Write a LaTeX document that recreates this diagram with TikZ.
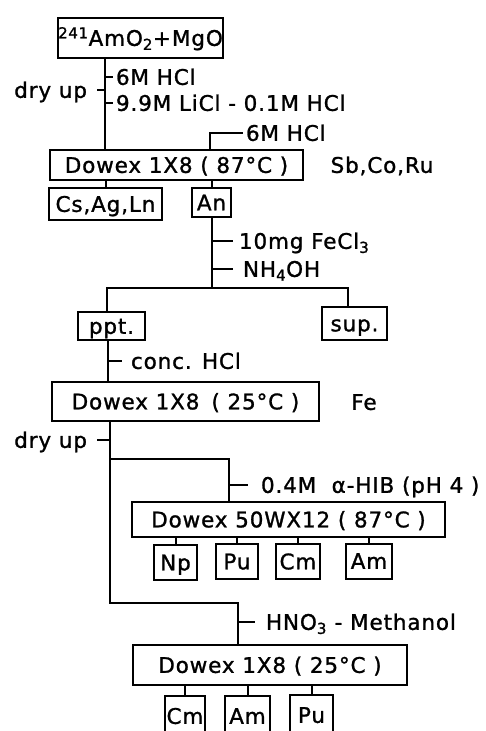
\documentclass[tikz,border=0pt]{standalone}
\usepackage{fontspec}
\setmainfont{DejaVu Sans}[LetterSpace=4,FakeBold=1.2]
\begin{document}
\begin{tikzpicture}[x=1pt,y=-1pt,line width=2pt,
  txt/.style={inner sep=0pt,text height=15.7pt,text depth=0pt,font=\fontsize{21.5}{25}\selectfont},
  box/.style={txt,draw},
  lbl/.style={txt}]
\clip (0,0) rectangle (485,731);
% top
\node[box,minimum width=161,minimum height=40] (b1) at (140.5,38) {\textsuperscript{241}AmO\textsubscript{2}+\hspace{1pt}MgO};
\node[box,minimum width=253,minimum height=30] (b2) at (176.5,165) {Dowex 1X8 ( 87°C )};
\node[lbl] (sb) at (382,165) {Sb,Co,Ru};
\coordinate (t1) at (105,77);
\coordinate (t2) at (105,90);
\coordinate (t3) at (105,103);
\draw (b1.south -| t1) -- (b2.north -| t1);
\node[lbl,anchor=west] (l1) at (115,77) {6M HCl};
\node[lbl,anchor=east] (l2) at (88,90) {dry up};
\node[lbl,anchor=west] (l3) at (115,103) {9.9M LiCl - 0.1M HCl};
\draw (t1) -- ([xshift=-2]l1.west);
\draw (t2) -- ([xshift=9]l2.east);
\draw (t3) -- ([xshift=-2]l3.west);
\coordinate (c2) at (210,133);
\node[lbl,anchor=west] (l4) at (245,133) {6M HCl};
\draw (b2.north -| c2) |- ([xshift=-2]l4.west);
% second level
\node[box,minimum width=113,minimum height=32] (cs) at (105.5,204) {Cs,Ag,Ln};
\node[box,minimum width=39,minimum height=29] (an) at (211.5,202.5) {An};
\draw (cs.north) -- (cs.north |- b2.south);
\draw (an.north) -- (an.north |- b2.south);
\node[box,minimum width=67,minimum height=28] (ppt) at (111.5,326) {ppt.};
\node[box,minimum width=65,minimum height=33] (sup) at (354.5,323.5) {sup.};
\coordinate (jL) at (107,288);
\coordinate (jR) at (348,288);
\draw (an.south) -- (an.south |- jL);
\draw (ppt.north -| jL) -- (jL) -- (jR) -- (sup.north -| jR);
\node[lbl,anchor=west] (l5) at (238,241) {10mg FeCl\textsubscript{3}};
\node[lbl,anchor=west] (l6) at (242,269) {NH\textsubscript{4}OH};
\draw (an.south |- l5.west) -- ([xshift=-5]l5.west);
\draw (an.south |- l6.west) -- ([xshift=-9]l6.west);
% Dowex 25
\node[box,minimum width=267,minimum height=39] (d3) at (185.5,401.5) {Dowex 1X8\hspace{12pt}( 25°C )};
\node[lbl] (fe) at (364,402) {Fe};
\coordinate (v2) at (108,361);
\draw (ppt.south -| v2) -- (d3.north -| v2);
\node[lbl,anchor=west] (l7) at (130,361) {conc. HCl};
\draw (v2) -- ([xshift=-8]l7.west);
% main trunk
\coordinate (m1) at (110,440);
\coordinate (m2) at (110,459);
\coordinate (m3) at (110,603);
\coordinate (jA) at (229,459);
\coordinate (jB) at (238,603);
\node[box,minimum width=313,minimum height=35] (d4) at (288.5,519.5) {Dowex 50WX12 ( 87°C )};
\node[box,minimum width=274,minimum height=40] (d5) at (270,665) {Dowex 1X8 ( 25°C )};
\draw (d3.south -| m1) -- (m3) -- (jB) -- (d5.north -| jB);
\draw (m2) -- (jA) -- (d4.north -| jA);
\node[lbl,anchor=east] (l8) at (88,440) {dry up};
\draw (m1) -- ([xshift=9]l8.east);
\node[lbl,anchor=west] (l9) at (260,485) {0.4M\ \ α-HIB (pH 4 )};
\draw (jA |- l9.west) -- ([xshift=-12]l9.west);
\node[lbl,anchor=west] (l10) at (265,622) {HNO\textsubscript{3} - Methanol};
\draw (jB |- l10.west) -- ([xshift=-10]l10.west);
% children of d4
\node[box,minimum width=43,minimum height=35] (np) at (175.5,562.5) {Np};
\node[box,minimum width=42,minimum height=35] (pu) at (237,561.5) {Pu};
\node[box,minimum width=44,minimum height=35] (cm) at (298,561.5) {Cm};
\node[box,minimum width=46,minimum height=35] (am) at (369,561) {Am};
\foreach \n in {np,pu,cm,am} \draw (\n.north) -- (\n.north |- d4.south);
% children of d5
\node[box,minimum width=40,minimum height=40] (cm2) at (185,716) {Cm};
\node[box,minimum width=45,minimum height=40] (am2) at (247.5,716) {Am};
\node[box,minimum width=43,minimum height=40] (pu2) at (311.5,715) {Pu};
\foreach \n in {cm2,am2,pu2} \draw (\n.north) -- (\n.north |- d5.south);
\end{tikzpicture}
\end{document}
